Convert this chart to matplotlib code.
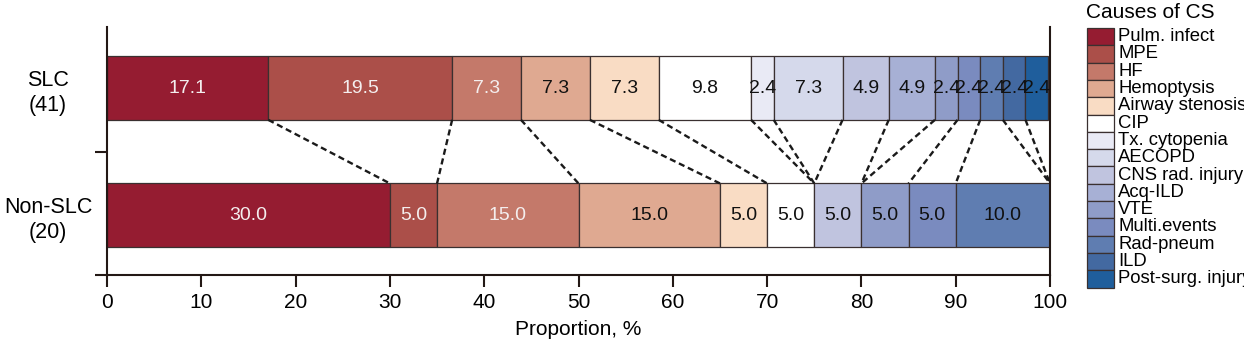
"""Stacked proportion bars of causes of CS, SLC vs Non-SLC."""
import matplotlib
matplotlib.use('Agg')
import matplotlib.pyplot as plt
from matplotlib.patches import Rectangle
import numpy as np

plt.rcParams['font.family'] = ['Liberation Sans', 'DejaVu Sans']

causes = ['Pulm. infect', 'MPE', 'HF', 'Hemoptysis', 'Airway stenosis', 'CIP',
          'Tx. cytopenia', 'AECOPD', 'CNS rad. injury', 'Acq-ILD', 'VTE',
          'Multi.events', 'Rad-pneum', 'ILD', 'Post-surg. injury']
colors = ['#951c31', '#ab4f49', '#c4796a', '#dfa991', '#f9dcc4', '#ffffff',
          '#e9eaf5', '#d5d9eb', '#c0c4df', '#a7b0d5', '#8f9cc8',
          '#7a8bbf', '#5f7db1', '#4369a1', '#1f5e9c']
slc = [17.1, 19.5, 7.3, 7.3, 7.3, 9.8, 2.4, 7.3, 4.9, 4.9, 2.4, 2.4, 2.4, 2.4, 2.4]
non_slc = [30.0, 5.0, 15.0, 15.0, 5.0, 5.0, 0, 0, 5.0, 0, 5.0, 5.0, 10.0, 0, 0]
groups = ['SLC\n(41)', 'Non-SLC\n(20)']
white_text = {'Pulm. infect', 'MPE', 'HF'}

EDGE = '#3a3030'
H = 0.5

fig = plt.figure(figsize=(12.44, 3.53), dpi=100)
ax = fig.add_axes([107 / 1244, 1 - 275 / 353, 943 / 1244, 248 / 353])

ypos = [1, 0]
for y, vals in zip(ypos, [slc, non_slc]):
    left = 0
    for name, c, v in zip(causes, colors, vals):
        if v > 0:
            ax.barh(y, v, left=left, height=H, color=c, edgecolor=EDGE, linewidth=0.9)
            ax.text(left + v / 2, y, f'{v:.1f}', ha='center', va='center', fontsize=14,
                    color='#f4eeee' if name in white_text else '#111111')
        left += v

# dashed connectors between cumulative boundaries
cs = np.cumsum(slc)
cn = np.cumsum(non_slc)
for i in range(len(causes) - 1):
    ax.plot([cs[i], cn[i]], [1 - H / 2, H / 2], color='#1a1a1a', lw=1.7,
            linestyle=(0, (2.6, 1.6)), zorder=1)

ax.set_xlim(0, 100)
ax.set_ylim(-0.47, 1.48)
ax.set_xticks(np.arange(0, 101, 10))
ax.set_yticks(ypos, groups, ha='center', multialignment='center')
ax.set_yticks([-0.47, 0.5], minor=True)
ax.tick_params(axis='y', which='major', length=0, pad=42.5, labelsize=15.5)
ax.tick_params(axis='y', which='minor', length=8.6, width=1.5, color='#231815')
ax.tick_params(axis='x', length=8.6, width=1.5, color='#231815', pad=4, labelsize=15)
for lbl in ax.get_yticklabels():
    lbl.set_linespacing(1.25)

ax.spines['top'].set_visible(False)
for s in ['left', 'bottom', 'right']:
    ax.spines[s].set_linewidth(1.5)
    ax.spines[s].set_color('#231815')
ax.set_xlabel('Proportion, %', fontsize=15, labelpad=6)

# legend drawn row by row in figure pixels
fig.text(1086 / 1244, 1 - 13 / 353, 'Causes of CS', fontsize=15, va='center', ha='left')
row_h = 17.3
for i, (name, c) in enumerate(zip(causes, colors)):
    top = 28 + i * row_h
    fig.patches.append(Rectangle((1087 / 1244, 1 - (top + row_h) / 353), 27 / 1244, row_h / 353,
                                 transform=fig.transFigure, facecolor=c, edgecolor=EDGE,
                                 linewidth=0.9))
    fig.text(1118 / 1244, 1 - (top + row_h / 2) / 353, name, fontsize=13.3, va='center', ha='left')

fig.savefig('out.png', dpi=100)
